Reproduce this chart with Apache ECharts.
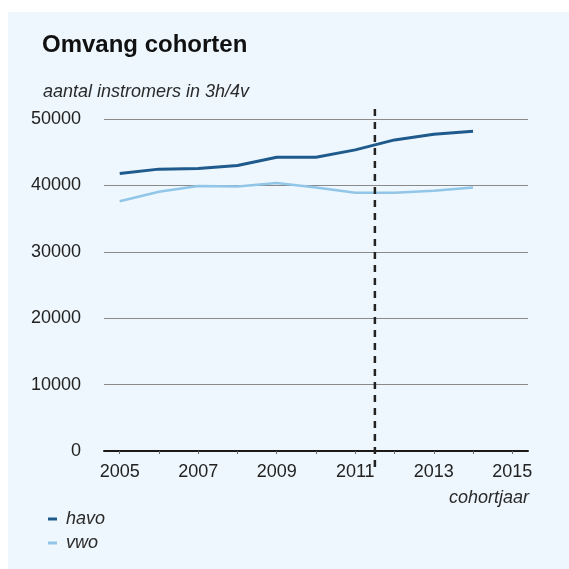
<!DOCTYPE html>
<html>
<head>
<meta charset="utf-8">
<script src="https://cdn.jsdelivr.net/npm/echarts@6/dist/echarts.min.js"></script>
<style>
  html, body { margin: 0; padding: 0; background: #ffffff; }
  #panel { position: absolute; left: 8px; top: 12px; width: 561px; height: 557px; background: #eef7fd; }
  #chart { position: absolute; left: 0; top: 0; width: 569px; height: 569px; }
</style>
</head>
<body>
<div id="panel"></div>
<div id="chart"></div>
<script>
// data
const years = [2005, 2006, 2007, 2008, 2009, 2010, 2011, 2012, 2013, 2014];
const havo = [41800, 42450, 42550, 43000, 44250, 44250, 45350, 46850, 47700, 48150];
const vwo = [37600, 39050, 39900, 39850, 40350, 39700, 38900, 38900, 39200, 39700];

const tickYears = [2005, 2006, 2007, 2008, 2009, 2010, 2011, 2012, 2013, 2014, 2015];
const labelYears = [2005, 2007, 2009, 2011, 2013, 2015];

// vertical dashed marker (between 2011 and 2012), runs a bit past the axis
const markerYear = 2011.5;
const markerSpan = [-2400, 52000];

const font = 'Liberation Sans, Arial, sans-serif';

const chart = echarts.init(document.getElementById('chart'));

const option = {
  backgroundColor: 'transparent',
  animation: false,
  title: {
    text: 'Omvang cohorten',
    left: 42,
    top: 33,
    padding: 0,
    textStyle: { fontFamily: font, fontSize: 24, fontWeight: 'bold', color: '#111' }
  },
  graphic: [
    {
      type: 'text',
      left: 43,
      top: 83,
      style: { text: 'aantal instromers in 3h/4v', font: 'italic 18px ' + font, fill: '#2a2a2a' }
    },
    {
      type: 'text',
      right: 40,
      top: 489,
      style: { text: 'cohortjaar', font: 'italic 18px ' + font, fill: '#2a2a2a' }
    }
  ],
  legend: {
    data: ['havo', 'vwo'],
    orient: 'vertical',
    left: 48,
    top: 510,
    padding: 0,
    itemGap: 6,
    itemWidth: 9,
    itemHeight: 3,
    icon: 'rect',
    textStyle: { fontFamily: font, fontSize: 18, fontStyle: 'italic', color: '#2a2a2a', padding: [0, 0, 0, 4] }
  },
  grid: {
    left: 104,
    right: 41,
    top: 119,
    bottom: 118,
    containLabel: false
  },
  xAxis: {
    type: 'value',
    min: 2004.6,
    max: 2015.4,
    axisLine: { show: true, lineStyle: { color: '#1a1a1a', width: 2 } },
    axisTick: { show: true, length: 3, customValues: tickYears, lineStyle: { color: '#666', width: 1 } },
    axisLabel: {
      customValues: labelYears,
      margin: 12,
      fontFamily: font,
      fontSize: 18,
      color: '#222',
      formatter: v => String(v)
    },
    splitLine: { show: false }
  },
  yAxis: {
    type: 'value',
    min: 0,
    max: 50000,
    interval: 10000,
    axisLine: { show: false },
    axisTick: { show: false },
    axisLabel: { margin: 23, fontFamily: font, fontSize: 18, color: '#222', formatter: v => String(v) },
    splitLine: { lineStyle: { color: '#8a8a8a', width: 1 } }
  },
  series: [
    {
      name: 'havo',
      type: 'line',
      symbol: 'none',
      data: years.map((y, i) => [y, havo[i]]),
      itemStyle: { color: '#1e5a8c' },
      lineStyle: { width: 3, color: '#1e5a8c' },
      z: 3
    },
    {
      name: 'vwo',
      type: 'line',
      symbol: 'none',
      data: years.map((y, i) => [y, vwo[i]]),
      itemStyle: { color: '#92c6e8' },
      lineStyle: { width: 2.5, color: '#92c6e8' },
      z: 3
    },
    {
      name: 'marker',
      type: 'line',
      symbol: 'none',
      clip: false,
      silent: true,
      data: markerSpan.map(v => [markerYear, v]),
      lineStyle: { color: '#222', width: 2.5, type: [7, 6] },
      z: 4
    }
  ]
};

chart.setOption(option);
</script>
</body>
</html>
